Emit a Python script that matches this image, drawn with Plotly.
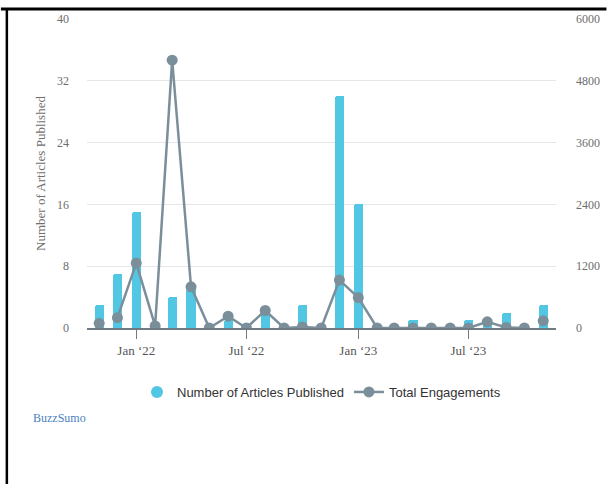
import plotly.graph_objects as go

# Monthly buckets (first day of each month)
months = [
    "2021-11-01", "2021-12-01", "2022-01-01", "2022-02-01", "2022-03-01",
    "2022-04-01", "2022-05-01", "2022-06-01", "2022-07-01", "2022-08-01",
    "2022-09-01", "2022-10-01", "2022-11-01", "2022-12-01", "2023-01-01",
    "2023-02-01", "2023-03-01", "2023-04-01", "2023-05-01", "2023-06-01",
    "2023-07-01", "2023-08-01", "2023-09-01", "2023-10-01", "2023-11-01",
]
articles = [3, 7, 15, 0, 4, 5, 0, 1, 0, 2, 0, 3, 0, 30, 16, 0, 0, 1, 0, 0, 1, 1, 2, 0, 3]
engagements = [90, 200, 1260, 40, 5200, 800, 0, 230, 0, 340, 0, 20, 0, 930, 590,
               0, 0, 0, 0, 0, 0, 120, 10, 0, 140]

tick_dates = ["2022-01-01", "2022-07-01", "2023-01-01", "2023-07-01"]
tick_text = ["Jan \u201822", "Jul \u201822", "Jan \u201823", "Jul \u201823"]

BAR_COLOR = "#52c7e3"
LINE_COLOR = "#7b8f9b"
AXIS_TEXT = "#6e6e6e"
SERIF = "Liberation Serif, Times New Roman, serif"
SANS = "Liberation Sans, Arial, sans-serif"

# layout geometry (pixels)
W, H = 612, 484
L, R, T, B = 87, 51, 19, 156
PW, PH = W - L - R, H - T - B


def px_x(p):
    return (p - L) / PW


def px_y(p):
    return (H - B - p) / PH


fig = go.Figure()

fig.add_trace(go.Bar(
    x=months, y=articles, name="Number of Articles Published",
    marker=dict(color=BAR_COLOR, line=dict(width=0), cornerradius=2),
    width=15 * 24 * 3600 * 1000, showlegend=False, yaxis="y",
))
# circular legend key for the bar series
fig.add_trace(go.Scatter(
    x=[None], y=[None], mode="markers", name="Number of Articles Published",
    marker=dict(color=BAR_COLOR, size=12, symbol="circle"),
))

# engagement line (inner months connected), end months shown as lone points
fig.add_trace(go.Scatter(
    x=months[1:-1], y=engagements[1:-1], mode="lines+markers", name="Total Engagements",
    line=dict(color=LINE_COLOR, width=2.5),
    marker=dict(color=LINE_COLOR, size=11),
    yaxis="y2",
))
fig.add_trace(go.Scatter(
    x=[months[0], months[-1]], y=[engagements[0], engagements[-1]], mode="markers",
    marker=dict(color=LINE_COLOR, size=11), showlegend=False, yaxis="y2",
))

fig.update_layout(
    width=W, height=H,
    margin=dict(l=L, r=R, t=T, b=B, pad=0),
    paper_bgcolor="white", plot_bgcolor="white",
    bargap=0,
    xaxis=dict(
        type="date", range=["2021-10-12", "2023-11-22"],
        showgrid=False, zeroline=False,
        showline=True, linecolor="#6f7b82", linewidth=2,
        tickmode="array", tickvals=tick_dates, ticktext=tick_text,
        ticks="outside", ticklen=9, tickcolor="#6f7b82", tickwidth=1,
        tickfont=dict(family=SERIF, size=13, color="#555555"),
    ),
    yaxis=dict(
        range=[0, 40], dtick=8, tick0=0,
        showgrid=True, gridcolor="#e6e6e6", gridwidth=1,
        zeroline=False, showline=False,
        ticklabelstandoff=17,
        tickfont=dict(family=SERIF, size=12, color=AXIS_TEXT),
        title=dict(text="Number of Articles Published",
                   font=dict(family=SERIF, size=13, color=AXIS_TEXT), standoff=8),
    ),
    yaxis2=dict(
        range=[0, 6000], dtick=1200, tick0=0,
        overlaying="y", side="right",
        showgrid=False, zeroline=False, showline=False,
        ticklabelstandoff=19,
        tickfont=dict(family=SERIF, size=12, color=AXIS_TEXT),
    ),
    legend=dict(
        orientation="h", x=0.5, xanchor="center", y=px_y(392), yanchor="middle",
        font=dict(family=SANS, size=13, color="#333333"),
        bgcolor="rgba(0,0,0,0)", itemclick=False,
    ),
    annotations=[dict(
        text="BuzzSumo", xref="paper", yref="paper",
        x=px_x(30), y=px_y(418), xanchor="left", yanchor="middle",
        showarrow=False, font=dict(family=SERIF, size=12, color="#4b7fbf"),
    )],
    shapes=[
        dict(type="line", xref="paper", yref="paper",
             x0=px_x(0), x1=px_x(W), y0=px_y(9), y1=px_y(9),
             line=dict(color="black", width=3)),
        dict(type="line", xref="paper", yref="paper",
             x0=px_x(6), x1=px_x(6), y0=px_y(8), y1=px_y(H),
             line=dict(color="black", width=2.5)),
    ],
    showlegend=True,
)

fig.write_html("out.html")
